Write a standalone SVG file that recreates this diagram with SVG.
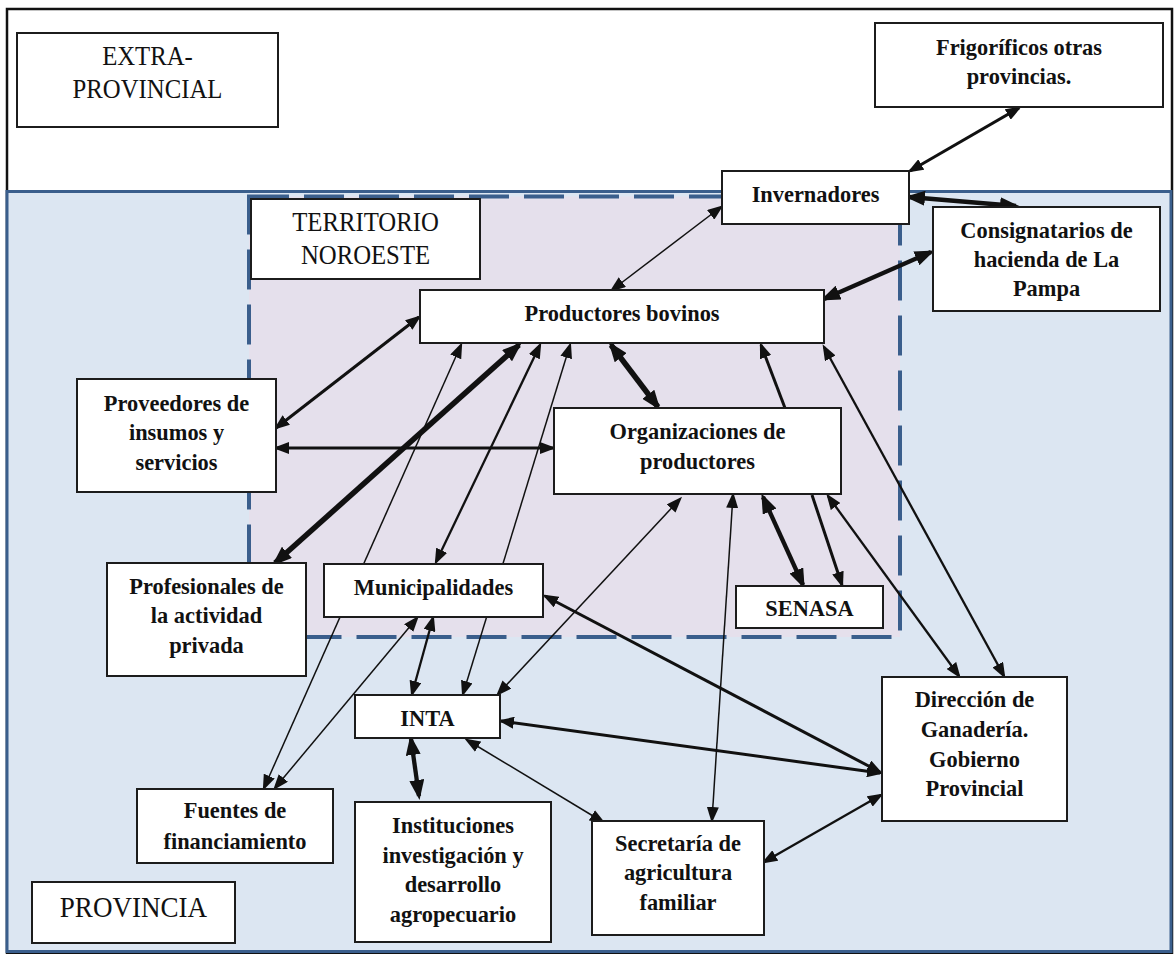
<svg xmlns="http://www.w3.org/2000/svg" width="1174" height="954" viewBox="0 0 1174 954">
<style>
.box{fill:#fff;stroke:#1c1c1c;stroke-width:2}
.t{font-family:"Liberation Serif","Times New Roman",serif;font-weight:bold;font-size:23.7px;fill:#111;text-anchor:middle}
.r{font-family:"Liberation Serif","Times New Roman",serif;font-size:27.5px;fill:#111;text-anchor:middle}
.cn line{stroke:#111;fill:none}
.c1{stroke-width:1.5}
.c2{stroke-width:2.3}
.c3{stroke-width:3}
.c4{stroke-width:4.3}
.c5{stroke-width:5.5}
.d{marker-start:url(#ah);marker-end:url(#ah)}
.db{marker-start:url(#ahb);marker-end:url(#ahb)}
.s{marker-end:url(#ah)}
</style>
<defs>
<marker id="ah" markerUnits="userSpaceOnUse" viewBox="0 0 16 12" markerWidth="16" markerHeight="12" refX="13" refY="6" orient="auto-start-reverse"><path d="M0,0 L16,6 L0,12 z" fill="#111"/></marker>
<marker id="ahb" markerUnits="userSpaceOnUse" viewBox="0 0 20 15" markerWidth="20" markerHeight="15" refX="16" refY="7.5" orient="auto-start-reverse"><path d="M0,0 L20,7.5 L0,15 z" fill="#111"/></marker>
</defs>
<g id="regions">
<rect x="7" y="9" width="1165" height="944" fill="#fff" stroke="#111" stroke-width="2.5"/>
<rect x="7" y="191.5" width="1164" height="760" fill="#dce6f2" stroke="#3a5e8c" stroke-width="3"/>
<rect x="249" y="196.5" width="651" height="440.5" fill="#e5e0ec" stroke="#3a5e8c" stroke-width="4" stroke-dasharray="40 15"/>
</g>
<g id="label-extra"><rect class="box" x="17" y="33" width="261" height="94"/><text class="r" transform="matrix(0.9 0 0 1 14.75 0)"><tspan x="147.5" y="65">EXTRA-</tspan><tspan x="147.5" y="98">PROVINCIAL</tspan></text></g>
<g id="label-territorio"><rect class="box" x="251" y="199" width="229" height="80"/><text class="r" transform="matrix(0.9 0 0 1 36.55 0)"><tspan x="365.5" y="231">TERRITORIO</tspan><tspan x="365.5" y="264">NOROESTE</tspan></text></g>
<g id="label-provincia"><rect class="box" x="32" y="882" width="203" height="61"/><text class="r" x="133.5" y="917" style="font-size:28.5px" transform="matrix(0.95 0 0 1 6.675 0)">PROVINCIA</text></g>
<g id="connectors" class="cn">
<line class="c3 d" x1="1019" y1="108" x2="910" y2="171"/>
<line class="c4 db" x1="909" y1="197" x2="1016" y2="206"/>
<line class="c4 db" x1="931" y1="252" x2="824" y2="299"/>
<line class="c1 d" x1="721" y1="207" x2="612" y2="290"/>
<line class="c3 d" x1="276" y1="428" x2="419" y2="317"/>
<line class="c3 d" x1="276" y1="448" x2="553" y2="448"/>
<line class="c5 db" x1="275" y1="563" x2="519" y2="345"/>
<line class="c1 d" x1="264" y1="788" x2="461" y2="345"/>
<line class="c2 d" x1="436" y1="562" x2="540" y2="345"/>
<line class="c1 d" x1="463" y1="694" x2="570" y2="345"/>
<line class="c5 db" x1="611" y1="345" x2="658" y2="407"/>
<line class="c3 s" x1="785" y1="408" x2="761" y2="345"/>
<line class="c2 d" x1="824" y1="347" x2="1004" y2="676"/>
<line class="c2 d" x1="828" y1="496" x2="959" y2="676"/>
<line class="c4 db" x1="763" y1="497" x2="803" y2="585"/>
<line class="c3 s" x1="812" y1="495" x2="842" y2="585"/>
<line class="c1 d" x1="680" y1="499" x2="498" y2="694"/>
<line class="c1 d" x1="733" y1="495" x2="712" y2="820"/>
<line class="c3 d" x1="545" y1="596" x2="880" y2="772"/>
<line class="c3 d" x1="501" y1="721" x2="880" y2="773"/>
<line class="c1 d" x1="417" y1="618" x2="275" y2="788"/>
<line class="c2 d" x1="433" y1="618" x2="412" y2="694"/>
<line class="c4 db" x1="411" y1="739" x2="419" y2="796"/>
<line class="c1 d" x1="467" y1="740" x2="603" y2="822"/>
<line class="c2 d" x1="764" y1="862" x2="881" y2="795"/>
</g>
<g id="frigorificos"><rect class="box" x="875" y="23" width="288" height="84"/><text class="t" transform="matrix(0.945 0 0 1 56.05 0)"><tspan x="1019" y="55">Frigoríficos otras</tspan><tspan x="1019" y="84">provincias.</tspan></text></g>
<g id="invernadores"><rect class="box" x="722" y="171" width="187" height="53"/><text class="t" x="815.5" y="202" transform="matrix(0.945 0 0 1 44.85 0)">Invernadores</text></g>
<g id="consignatarios"><rect class="box" x="933" y="207" width="227" height="104"/><text class="t" transform="matrix(0.945 0 0 1 57.56 0)"><tspan x="1046.5" y="238">Consignatarios de</tspan><tspan x="1046.5" y="267">hacienda de La</tspan><tspan x="1046.5" y="296">Pampa</tspan></text></g>
<g id="productores"><rect class="box" x="420" y="290" width="404" height="53"/><text class="t" x="622" y="321" transform="matrix(0.945 0 0 1 34.21 0)">Productores bovinos</text></g>
<g id="proveedores"><rect class="box" x="77" y="379" width="199" height="113"/><text class="t" transform="matrix(0.945 0 0 1 9.71 0)"><tspan x="176.5" y="411">Proveedores de</tspan><tspan x="176.5" y="440">insumos y</tspan><tspan x="176.5" y="470">servicios</tspan></text></g>
<g id="organizaciones"><rect class="box" x="554" y="408" width="287" height="86"/><text class="t" transform="matrix(0.945 0 0 1 38.36 0)"><tspan x="697.5" y="439">Organizaciones de</tspan><tspan x="697.5" y="469">productores</tspan></text></g>
<g id="profesionales"><rect class="box" x="107" y="563" width="199" height="113"/><text class="t" transform="matrix(0.945 0 0 1 11.36 0)"><tspan x="206.5" y="594">Profesionales de</tspan><tspan x="206.5" y="623">la actividad</tspan><tspan x="206.5" y="653">privada</tspan></text></g>
<g id="municipalidades"><rect class="box" x="324" y="564" width="219" height="53"/><text class="t" x="433.5" y="595" transform="matrix(0.945 0 0 1 23.84 0)">Municipalidades</text></g>
<g id="senasa"><rect class="box" x="736" y="586" width="147" height="42"/><text class="t" x="809.5" y="616" transform="matrix(0.945 0 0 1 44.52 0)">SENASA</text></g>
<g id="inta"><rect class="box" x="355" y="695" width="145" height="43"/><text class="t" x="427.5" y="726" transform="matrix(0.945 0 0 1 23.51 0)">INTA</text></g>
<g id="direccion"><rect class="box" x="882" y="677" width="185" height="144"/><text class="t" transform="matrix(0.945 0 0 1 53.6 0)"><tspan x="974.5" y="707">Dirección de</tspan><tspan x="974.5" y="737">Ganadería.</tspan><tspan x="974.5" y="767">Gobierno</tspan><tspan x="974.5" y="796">Provincial</tspan></text></g>
<g id="fuentes"><rect class="box" x="137" y="789" width="196" height="74"/><text class="t" transform="matrix(0.945 0 0 1 12.93 0)"><tspan x="235" y="818">Fuentes de</tspan><tspan x="235" y="849">financiamiento</tspan></text></g>
<g id="instituciones"><rect class="box" x="355" y="802" width="196" height="140"/><text class="t" transform="matrix(0.945 0 0 1 24.92 0)"><tspan x="453" y="833">Instituciones</tspan><tspan x="453" y="863">investigación y</tspan><tspan x="453" y="892">desarrollo</tspan><tspan x="453" y="922">agropecuario</tspan></text></g>
<g id="secretaria"><rect class="box" x="592" y="821" width="172" height="114"/><text class="t" transform="matrix(0.945 0 0 1 37.29 0)"><tspan x="678" y="851">Secretaría de</tspan><tspan x="678" y="880">agricultura</tspan><tspan x="678" y="910">familiar</tspan></text></g>
</svg>
